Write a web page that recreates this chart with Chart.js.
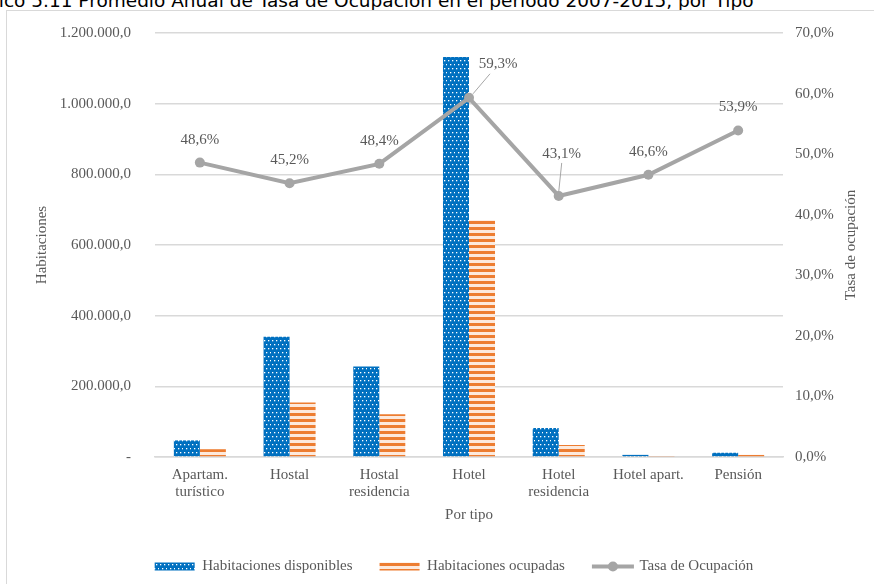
<!DOCTYPE html>
<html>
<head>
<meta charset="utf-8">
<script src="https://cdn.jsdelivr.net/npm/chart.js@4"></script>
<style>
  body { margin: 0; background: #fff; width: 874px; height: 584px; overflow: hidden; position: relative; }
  #titulo { position: absolute; left: -41px; top: -10px; font: 18.5px "DejaVu Sans", sans-serif; color: #000; white-space: nowrap; line-height: 21px; }
  #marco { position: absolute; left: 6px; top: 10px; width: 868px; height: 574px; border-left: 1px solid #d9d9d9; border-top: 1px solid #d9d9d9; }
</style>
</head>
<body>
<div id="titulo">Gráfico 5.11 Promedio Anual de Tasa de Ocupación en el período 2007-2015, por Tipo</div>
<div id="marco"><canvas id="tipoChart" width="868" height="573"></canvas></div>
<script>
const tipos = [['Apartam.', 'turístico'], 'Hostal', ['Hostal', 'residencia'], 'Hotel', ['Hotel', 'residencia'], 'Hotel apart.', 'Pensión'];
const disponibles = [47000, 340000, 256000, 1132000, 82000, 6000, 12000];
const ocupadas = [22000, 154000, 121000, 670000, 34000, 2700, 6500];
const tasa = [48.6, 45.2, 48.4, 59.3, 43.1, 46.6, 53.9];

const gris = '#595959';
const serif = 'Liberation Serif, Times New Roman, serif';
const letra = { family: serif, size: 15, lineHeight: 1.15 };

// tramas de las barras
function trama(w, h, dibujo) {
  const c = document.createElement('canvas');
  c.width = w; c.height = h;
  dibujo(c.getContext('2d'));
  return c.getContext('2d').createPattern(c, 'repeat');
}
const puntos = trama(8, 8, g => {
  g.fillStyle = '#0070C0'; g.fillRect(0, 0, 8, 8);
  g.fillStyle = '#ffffff';
  [[1, 1], [5, 1], [3, 5], [7, 5]].forEach(p => g.fillRect(p[0], p[1], 1.3, 1.3));
});
const rayas = trama(4, 6, g => {
  g.fillStyle = '#fde9dc'; g.fillRect(0, 0, 4, 6);
  g.fillStyle = '#ED7D31'; g.fillRect(0, 0, 4, 3);
});

const fmtMiles = v => v === 0 ? '-' : v.toLocaleString('de-DE', { minimumFractionDigits: 1, maximumFractionDigits: 1 });
const fmtPct = v => v.toFixed(1).replace('.', ',') + '%';

// ancho fijo del eje y sin relleno extra arriba/abajo
const ajustarEje = ancho => s => { s.width = ancho; s.paddingTop = 0; s.paddingBottom = 0; };

// etiquetas de la linea de tasa, titulo del eje derecho y marcador de leyenda
const etiquetas = {
  id: 'etiquetas',
  afterUpdate(chart) {
    const lg = chart.legend;
    lg.left += 13; lg.right += 13;
    lg.legendHitBoxes.forEach(b => { b.left += 13; });
  },
  afterDatasetsDraw(chart) {
    const meta = chart.getDatasetMeta(2);
    const ctx = chart.ctx;
    ctx.save();
    ctx.font = '15px ' + serif;
    ctx.fillStyle = gris;
    ctx.textAlign = 'center';
    ctx.textBaseline = 'middle';
    meta.data.forEach((pt, i) => {
      let dx = 0, dy = -23;
      if (i === 3) dx = 29, dy = -34;
      if (i === 4) dx = 3, dy = -42;
      if (i === 3 || i === 4) {
        ctx.strokeStyle = '#A6A6A6';
        ctx.lineWidth = 1;
        ctx.beginPath();
        ctx.moveTo(pt.x + (i === 3 ? 4 : 0), pt.y - 4);
        ctx.lineTo(pt.x + (i === 3 ? 21 : 3), pt.y + dy + (i === 3 ? 10 : 9));
        ctx.stroke();
      }
      ctx.fillText(fmtPct(tasa[i]), pt.x + dx, pt.y + dy);
    });
    ctx.restore();
  },
  afterDraw(chart) {
    const ctx = chart.ctx;
    const a = chart.chartArea;
    ctx.save();
    ctx.translate(844, (a.top + a.bottom) / 2);
    ctx.rotate(-Math.PI / 2);
    ctx.font = '15px ' + serif;
    ctx.fillStyle = gris;
    ctx.textAlign = 'center';
    ctx.textBaseline = 'middle';
    ctx.fillText('Tasa de ocupación', 0, 0);
    ctx.restore();

    const box = chart.legend.legendHitBoxes[2];
    if (!box) return;
    const y = box.top + box.height / 2;
    ctx.save();
    ctx.strokeStyle = '#A5A5A5';
    ctx.lineWidth = 4;
    ctx.beginPath();
    ctx.moveTo(box.left, y);
    ctx.lineTo(box.left + 42, y);
    ctx.stroke();
    ctx.fillStyle = '#A5A5A5';
    ctx.beginPath();
    ctx.arc(box.left + 21, y, 5, 0, Math.PI * 2);
    ctx.fill();
    ctx.restore();
  }
};

new Chart(document.getElementById('tipoChart'), {
  data: {
    labels: tipos,
    datasets: [
      { type: 'bar', label: 'Habitaciones disponibles', data: disponibles, backgroundColor: puntos, yAxisID: 'y', order: 1, categoryPercentage: 0.58, barPercentage: 1 },
      { type: 'bar', label: 'Habitaciones ocupadas', data: ocupadas, backgroundColor: rayas, yAxisID: 'y', order: 1, categoryPercentage: 0.58, barPercentage: 1 },
      { type: 'line', label: 'Tasa de Ocupación', data: tasa, yAxisID: 'y1', order: 0, borderColor: '#A5A5A5', backgroundColor: '#A5A5A5', borderWidth: 4, pointRadius: 5, pointBackgroundColor: '#A5A5A5', pointBorderWidth: 0, tension: 0 }
    ]
  },
  options: {
    responsive: false,
    animation: false,
    layout: { padding: { top: 22, left: 0, right: 0, bottom: 0 } },
    scales: {
      x: {
        grid: { display: false, drawTicks: false },
        border: { display: true, color: '#d9d9d9', width: 1.5 },
        ticks: { color: gris, font: letra, padding: 9, maxRotation: 0, autoSkip: false },
        title: { display: true, text: 'Por tipo', color: gris, font: letra, padding: { bottom: 8 } },
        afterFit: s => { s.height = 75; }
      },
      y: {
        position: 'left', min: 0, max: 1200000,
        grid: { color: '#d9d9d9', lineWidth: 1.5, drawTicks: false },
        border: { display: false },
        ticks: { stepSize: 200000, color: gris, font: letra, padding: 24, callback: fmtMiles },
        title: { display: true, text: 'Habitaciones', color: gris, font: letra, padding: { top: 26 } },
        afterFit: ajustarEje(148)
      },
      y1: {
        position: 'right', min: 0, max: 70,
        grid: { display: false, drawTicks: false },
        border: { display: false },
        ticks: { stepSize: 10, color: gris, font: letra, padding: 12, callback: fmtPct },
        afterFit: ajustarEje(92)
      }
    },
    plugins: {
      tooltip: { enabled: false },
      legend: {
        position: 'bottom',
        labels: {
          color: gris, font: letra, boxWidth: 40, boxHeight: 8, padding: 27,
          sort: (a, b) => a.datasetIndex - b.datasetIndex,
          generateLabels: chart => chart.data.datasets.map((d, i) => ({
            text: d.label, datasetIndex: i,
            fillStyle: i === 2 ? 'rgba(0,0,0,0)' : d.backgroundColor,
            strokeStyle: 'rgba(0,0,0,0)', lineWidth: 0, fontColor: gris
          }))
        }
      }
    }
  },
  plugins: [etiquetas]
});
</script>
</body>
</html>
